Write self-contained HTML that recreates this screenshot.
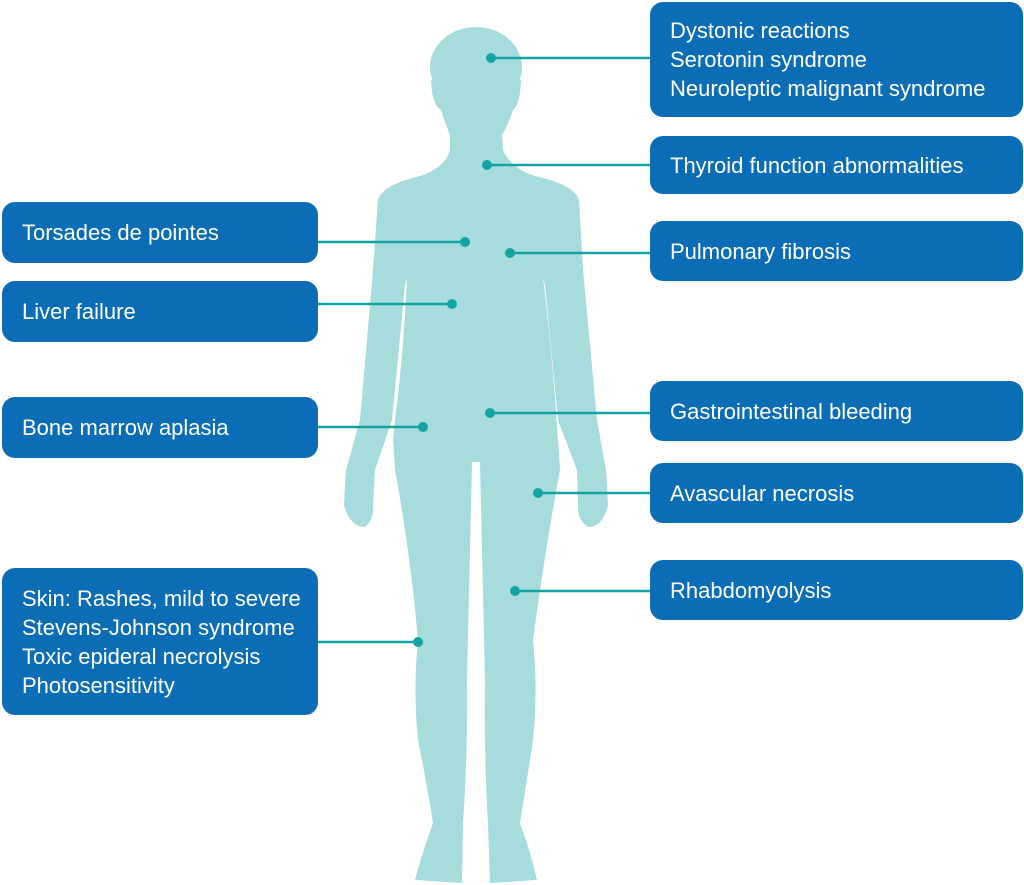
<!DOCTYPE html>
<html><head><meta charset="utf-8"><style>
body{margin:0;width:1024px;height:885px;background:#fff;position:relative;overflow:hidden;font-family:"Liberation Sans",sans-serif}
.b{position:absolute;background:#0b6db5;border-radius:13px;color:#fff;font-size:22px;line-height:29px;box-sizing:border-box;padding-left:20px;display:flex;flex-direction:column;justify-content:center}
svg{position:absolute;left:0;top:0}
</style></head><body>
<svg width="1024" height="885">
<g fill="#a6dcdc">
<ellipse cx="476" cy="67" rx="46" ry="40"/>
<path d="M431 80 Q432 105 441 110 Q446 125 450 135 L450 150 Q445 168 420 176 Q382 185 378 200 L373 270 L360 420 L346 470 L344 505 Q350 527 365 527 Q374 520 373 505 L375 470 L392 420 L405 285 L407 278 Q404 350 395 420 L393 440 L395 470 Q410 550 418 640 Q413 690 418 740 Q428 790 433 823 Q420 860 415 880 L462 883 L463 823 Q468 750 467 680 L472 462 L480 462 L485 680 Q484 760 488 823 L490 883 L537 880 Q530 850 520 823 Q527 780 533 740 Q538 690 533 640 Q545 550 560 470 L558 440 Q552 350 543 278 L545 285 L558 420 L577 470 L578 505 Q577 520 588 527 Q603 527 608 505 L606 470 L597 420 L583 270 L579 200 Q575 185 535 176 Q510 168 503 150 L502 135 Q508 125 513 110 Q520 105 521 80 Z"/>
</g>
<g stroke="#14a3a3" stroke-width="2.5" fill="#14a3a3">
<line x1="491" y1="58" x2="650" y2="58"/><circle cx="491" cy="58" r="5" stroke="none"/>
<line x1="487" y1="165" x2="650" y2="165"/><circle cx="487" cy="165" r="5" stroke="none"/>
<line x1="318" y1="242" x2="465" y2="242"/><circle cx="465" cy="242" r="5" stroke="none"/>
<line x1="510" y1="253" x2="650" y2="253"/><circle cx="510" cy="253" r="5" stroke="none"/>
<line x1="318" y1="304" x2="452" y2="304"/><circle cx="452" cy="304" r="5" stroke="none"/>
<line x1="318" y1="427" x2="423" y2="427"/><circle cx="423" cy="427" r="5" stroke="none"/>
<line x1="490" y1="413" x2="650" y2="413"/><circle cx="490" cy="413" r="5" stroke="none"/>
<line x1="538" y1="493" x2="650" y2="493"/><circle cx="538" cy="493" r="5" stroke="none"/>
<line x1="515" y1="591" x2="650" y2="591"/><circle cx="515" cy="591" r="5" stroke="none"/>
<line x1="318" y1="642" x2="418" y2="642"/><circle cx="418" cy="642" r="5" stroke="none"/>
</g>
</svg>
<div class="b" style="left:650px;top:2px;width:373px;height:115px"><div>Dystonic reactions</div><div>Serotonin syndrome</div><div>Neuroleptic malignant syndrome</div></div>
<div class="b" style="left:650px;top:136px;width:373px;height:58px">Thyroid function abnormalities</div>
<div class="b" style="left:650px;top:221px;width:373px;height:60px">Pulmonary fibrosis</div>
<div class="b" style="left:650px;top:381px;width:373px;height:60px">Gastrointestinal bleeding</div>
<div class="b" style="left:650px;top:463px;width:373px;height:60px">Avascular necrosis</div>
<div class="b" style="left:650px;top:560px;width:373px;height:60px">Rhabdomyolysis</div>
<div class="b" style="left:2px;top:202px;width:316px;height:61px">Torsades de pointes</div>
<div class="b" style="left:2px;top:281px;width:316px;height:61px">Liver failure</div>
<div class="b" style="left:2px;top:397px;width:316px;height:61px">Bone marrow aplasia</div>
<div class="b" style="left:2px;top:568px;width:316px;height:147px"><div>Skin: Rashes, mild to severe</div><div>Stevens-Johnson syndrome</div><div>Toxic epideral necrolysis</div><div>Photosensitivity</div></div>
</body></html>
